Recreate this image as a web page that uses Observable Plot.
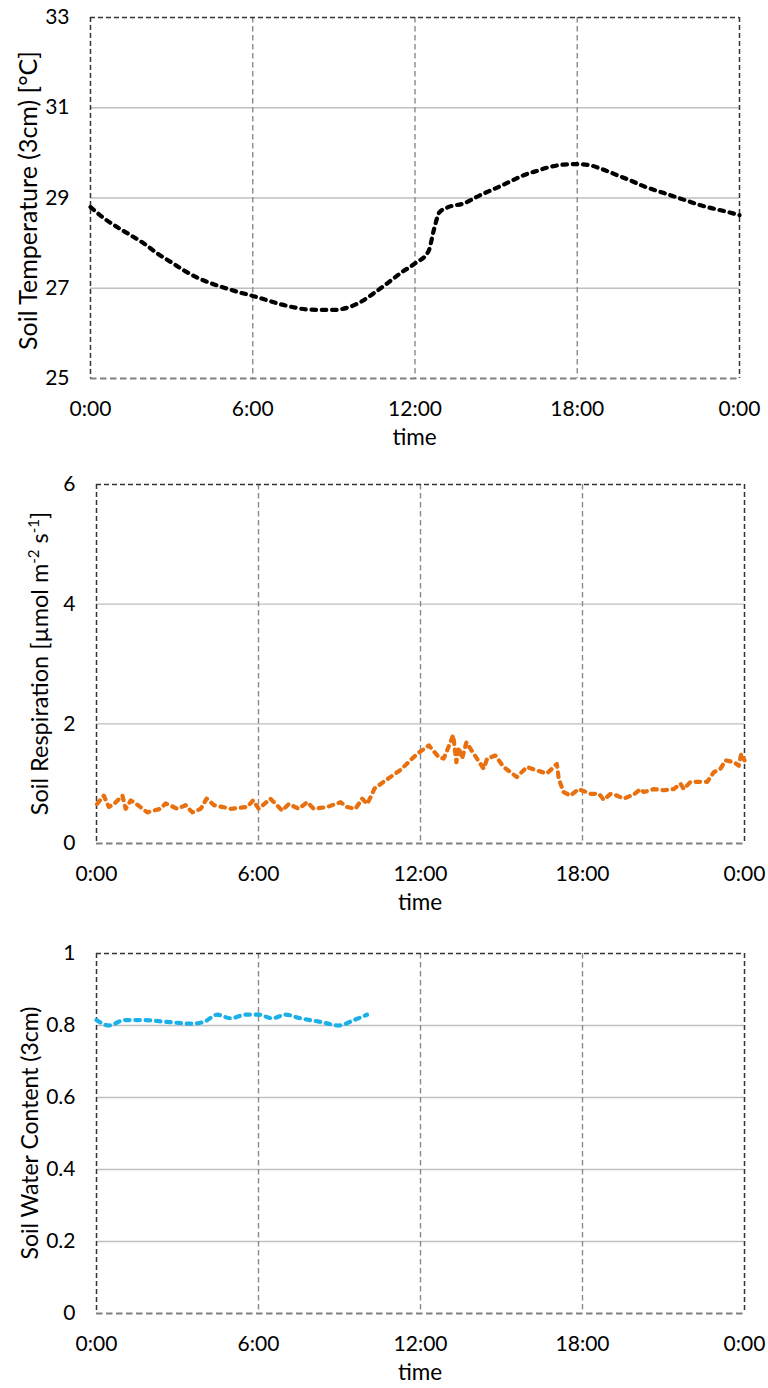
<!DOCTYPE html>
<html><head><meta charset="utf-8">
<script src="https://cdn.jsdelivr.net/npm/d3@7"></script>
<script src="https://cdn.jsdelivr.net/npm/@observablehq/plot@0.6"></script>
<style>body{margin:0;background:#fff} svg{display:block}</style>
</head><body><div id="chart"></div>
<script>
// x axis
const xTicks = [0, 6, 12, 18, 24];
const xTickLabels = ["0:00", "6:00", "12:00", "18:00", "0:00"];

// Panel 1: soil temperature
const tempHours = [0,0.5,1,1.5,2,2.5,3,3.5,4,4.5,5,5.5,6,6.5,7,7.5,8,8.5,9,9.5,10,10.5,11,11.5,12,12.5,12.7,12.9,13.2,13.8,14.4,15,15.5,16,16.5,17,17.5,18,18.5,19,19.5,20,20.5,21,21.5,22,22.5,23,23.5,24];
const tempValues = [28.8,28.55,28.35,28.17,27.98,27.76,27.57,27.38,27.22,27.1,27.0,26.91,26.83,26.74,26.65,26.58,26.53,26.52,26.52,26.57,26.7,26.9,27.12,27.35,27.55,27.82,28.3,28.68,28.79,28.88,29.06,29.22,29.36,29.5,29.6,29.69,29.74,29.75,29.72,29.62,29.5,29.38,29.25,29.15,29.05,28.95,28.85,28.77,28.7,28.62];
const tempTicks = [25, 27, 29, 31, 33];
const tempTickLabels = ["25", "27", "29", "31", "33"];

// Panel 2: soil respiration
const respHours = [0.02,0.27,0.46,0.65,0.96,1.08,1.27,1.45,1.88,2.37,2.56,2.99,3.3,3.55,3.86,4.08,4.35,4.97,5.58,5.8,6.01,6.44,6.88,7.12,7.49,7.8,8.05,8.54,9.04,9.28,9.59,9.84,10.03,10.3,10.63,11.26,11.88,12.31,12.68,12.86,12.99,13.21,13.33,13.41,13.54,13.7,13.97,14.34,14.47,14.77,15.08,15.57,15.94,16.31,16.68,16.87,17.05,17.12,17.3,17.55,17.86,18.3,18.61,18.79,19.04,19.28,19.53,19.9,20.15,20.27,20.64,21.01,21.38,21.63,21.75,22.0,22.62,22.86,23.11,23.3,23.6,23.79,23.88,24.0];
const respValues = [0.66,0.8,0.61,0.66,0.8,0.58,0.72,0.67,0.52,0.58,0.67,0.58,0.64,0.52,0.58,0.75,0.64,0.58,0.61,0.72,0.58,0.75,0.55,0.66,0.58,0.69,0.58,0.61,0.69,0.61,0.58,0.75,0.66,0.92,1.03,1.23,1.5,1.64,1.44,1.42,1.56,1.81,1.36,1.61,1.42,1.69,1.5,1.25,1.42,1.47,1.28,1.11,1.28,1.22,1.17,1.25,1.33,1.08,0.86,0.8,0.91,0.83,0.83,0.73,0.83,0.8,0.75,0.82,0.91,0.86,0.91,0.89,0.91,1.0,0.91,1.03,1.03,1.19,1.25,1.39,1.36,1.3,1.5,1.39];
const respTicks = [0, 2, 4, 6];
const respTickLabels = ["0", "2", "4", "6"];

// Panel 3: soil water content
const waterHours = [0,0.47,1.02,1.64,2.62,3.49,3.98,4.47,4.97,5.52,6.01,6.51,7.0,7.56,8.3,8.98,9.53,10.02];
const waterValues = [0.815,0.8,0.815,0.815,0.81,0.805,0.81,0.83,0.82,0.83,0.83,0.82,0.83,0.82,0.81,0.8,0.815,0.83];
const waterTicks = [0, 0.2, 0.4, 0.6, 0.8, 1];
const waterTickLabels = ["0", "0.2", "0.4", "0.6", "0.8", "1"];

const FONT = "Lato, 'Open Sans', sans-serif";

function panel(o) {
  const data = o.hours.map((t, i) => ({t, v: o.values[i]}));
  const y0 = o.yTicks[0], y1 = o.yTicks[o.yTicks.length - 1];
  const svg = Plot.plot({
    width: 768, height: o.h,
    marginLeft: o.ml, marginRight: o.mr, marginTop: o.mt, marginBottom: o.mb,
    style: {fontFamily: FONT, fontSize: "21px", color: "#000", background: "#fff", overflow: "visible"},
    x: {domain: [0, 24]},
    y: {domain: [y0, y1]},
    marks: [
      Plot.gridY(o.yTicks.slice(1, -1), {stroke: "#BFBFBF", strokeOpacity: 1, strokeWidth: 1.4}),
      Plot.gridX(xTicks.slice(1, -1), {stroke: "#8A8A8A", strokeOpacity: 1, strokeWidth: 1.4, strokeDasharray: "5.5,3.5"}),
      Plot.ruleY([y1], {stroke: "#333", strokeWidth: 1.5, strokeDasharray: "5,3"}),
      Plot.ruleX([0, 24], {stroke: "#333", strokeWidth: 1.5, strokeDasharray: "5,3"}),
      Plot.ruleY([y0], {stroke: "#808080", strokeWidth: 2, strokeDasharray: "6.5,3.5"}),
      Plot.line(data, {x: "t", y: "v", stroke: o.color, strokeWidth: 4.2, strokeDasharray: "4.5,5.8", strokeLinecap: "round", curve: o.curve}),
      Plot.axisX(xTicks, {tickSize: 0, tickPadding: 23, tickFormat: d => xTickLabels[xTicks.indexOf(d)], label: null}),
      Plot.axisY(o.yTicks, {tickSize: 0, tickPadding: 21, tickFormat: d => o.yTickLabels[o.yTicks.indexOf(d)], label: null})
    ]
  });
  const s = d3.select(svg);
  const bottom = o.h - o.mb;
  const cx = (o.ml + 768 - o.mr) / 2;
  s.append("text").attr("x", cx).attr("y", bottom + 59).attr("dy", "0.35em").attr("text-anchor", "middle")
    .attr("font-family", FONT).attr("font-size", 22.5).attr("fill", "#000").text("time");
  const cy = (o.mt + bottom) / 2 + (o.titleShift || 0);
  const t = s.append("text").attr("transform", `translate(${o.titleX},${cy}) rotate(-90)`)
    .attr("text-anchor", "middle").attr("dy", "0.35em")
    .attr("font-family", FONT).attr("font-size", o.titleSize).attr("fill", "#000");
  o.title(t);
  document.getElementById("chart").appendChild(svg);
}

panel({hours: tempHours, values: tempValues, color: "#000000", yTicks: tempTicks, yTickLabels: tempTickLabels,
  h: 467, ml: 90, mr: 29, mt: 17, mb: 89, titleX: 28, titleSize: 25, titleShift: 3, curve: "monotone-x",
  title: t => t.text("Soil Temperature (3cm) [°C]")});

panel({hours: respHours, values: respValues, color: "#E8700F", yTicks: respTicks, yTickLabels: respTickLabels,
  h: 467, ml: 96, mr: 24, mt: 17, mb: 91, titleX: 40, titleSize: 23.5, titleShift: 0, curve: "linear",
  title: t => {
    t.append("tspan").text("Soil Respiration [µmol m");
    t.append("tspan").attr("dy", -9).attr("font-size", 15).text("-2");
    t.append("tspan").attr("dy", 9).text(" s");
    t.append("tspan").attr("dy", -9).attr("font-size", 15).text("-1");
    t.append("tspan").attr("dy", 9).text("]");
  }});

panel({hours: waterHours, values: waterValues, color: "#1BB0E8", yTicks: waterTicks, yTickLabels: waterTickLabels,
  h: 454, ml: 96, mr: 24, mt: 19, mb: 75, titleX: 30, titleSize: 23, titleShift: 0, curve: "monotone-x",
  title: t => t.text("Soil Water Content (3cm)")});
</script></body></html>
